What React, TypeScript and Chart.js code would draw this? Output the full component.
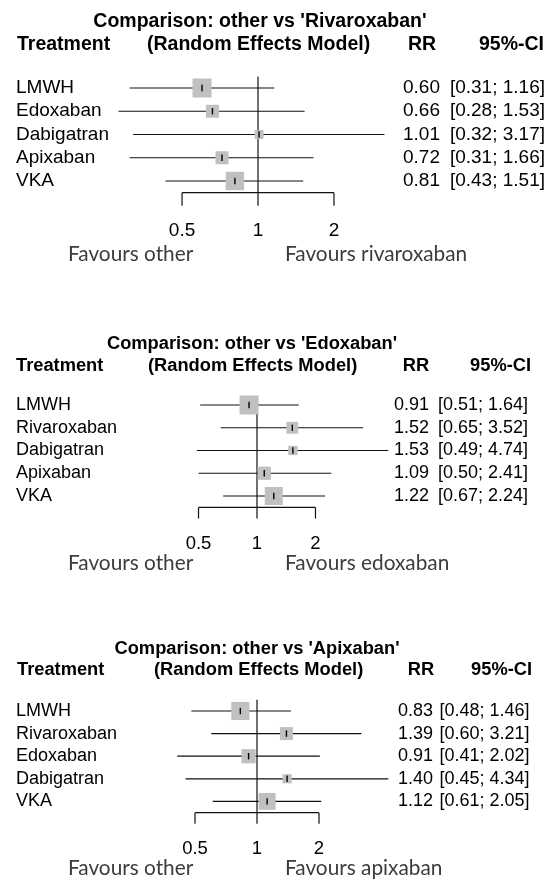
import React, { useEffect, useRef } from "react";
import { Chart, registerables } from "chart.js";

Chart.register(...registerables);

// ---------- data ----------
const headers = ["Treatment", "(Random Effects Model)", "RR", "95%-CI"];
const tickValues = [0.5, 1, 2];
const tickLabels = ["0.5", "1", "2"];

const p1Title = "Comparison: other vs 'Rivaroxaban'";
const p1Treatments = ["LMWH", "Edoxaban", "Dabigatran", "Apixaban", "VKA"];
const p1RR = [0.6, 0.66, 1.01, 0.72, 0.81];
const p1Lower = [0.31, 0.28, 0.32, 0.31, 0.43];
const p1Upper = [1.16, 1.53, 3.17, 1.66, 1.51];
const p1Weight = [32, 15, 7, 15, 30];
const p1Favours = ["Favours other", "Favours rivaroxaban"];

const p2Title = "Comparison: other vs 'Edoxaban'";
const p2Treatments = ["LMWH", "Rivaroxaban", "Dabigatran", "Apixaban", "VKA"];
const p2RR = [0.91, 1.52, 1.53, 1.09, 1.22];
const p2Lower = [0.51, 0.65, 0.49, 0.5, 0.67];
const p2Upper = [1.64, 3.52, 4.74, 2.41, 2.24];
const p2Weight = [33, 13, 8, 16, 30];
const p2Favours = ["Favours other", "Favours edoxaban"];

const p3Title = "Comparison: other vs 'Apixaban'";
const p3Treatments = ["LMWH", "Rivaroxaban", "Edoxaban", "Dabigatran", "VKA"];
const p3RR = [0.83, 1.39, 0.91, 1.4, 1.12];
const p3Lower = [0.48, 0.6, 0.41, 0.45, 0.61];
const p3Upper = [1.46, 3.21, 2.02, 4.34, 2.05];
const p3Weight = [31, 16, 19, 8, 27];
const p3Favours = ["Favours other", "Favours apixaban"];

type PanelData = {
  title: string;
  treatments: string[];
  rr: number[];
  lower: number[];
  upper: number[];
  weight: number[];
  favours: string[];
};

const PANEL_DATA: PanelData[] = [
  { title: p1Title, treatments: p1Treatments, rr: p1RR, lower: p1Lower, upper: p1Upper, weight: p1Weight, favours: p1Favours },
  { title: p2Title, treatments: p2Treatments, rr: p2RR, lower: p2Lower, upper: p2Upper, weight: p2Weight, favours: p2Favours },
  { title: p3Title, treatments: p3Treatments, rr: p3RR, lower: p3Lower, upper: p3Upper, weight: p3Weight, favours: p3Favours },
];

// ---------- layout ----------
const W = 549;
const H = 879;

const LAYOUTS = [
  { titleX: 260, titleY: 22, headerY: 45, treatX: 17, modelX: 147, rrHeadX: 422, ciHeadRight: 544, rrX: 421.5, ciRight: 545, row0: 88, step: 23.25, center: 258, half: 139.5, tickLen: 13, tickLabelY: 231, favY: 254, boxK: 3.36, bold: 19.5, text: 19, tick: 19, refTop: 0 },
  { titleX: 252, titleY: 344, headerY: 366, treatX: 16, modelX: 148, rrHeadX: 416, ciHeadRight: 531, rrX: 411.5, ciRight: 528, row0: 405, step: 22.75, center: 257, half: 131.3, tickLen: 11, tickLabelY: 544, favY: 563, boxK: 3.3, bold: 18.3, text: 18, tick: 18.5, refTop: 5 },
  { titleX: 257, titleY: 649, headerY: 670, treatX: 17, modelX: 154, rrHeadX: 421, ciHeadRight: 532, rrX: 415.5, ciRight: 529.5, row0: 711, step: 22.6, center: 257, half: 131.3, tickLen: 11, tickLabelY: 849, favY: 868, boxK: 3.25, bold: 18.3, text: 18, tick: 18.5, refTop: 0 },
];

const ARIAL = '"Liberation Sans", Arial, Helvetica, sans-serif';
const FAV_FONT = 'Lato, "Noto Sans", sans-serif';

function ForestPanel({ data, layout }: { data: PanelData; layout: (typeof LAYOUTS)[number] }) {
  const ref = useRef<HTMLCanvasElement>(null);

  useEffect(() => {
    const canvas = ref.current;
    if (!canvas) return;
    const n = data.treatments.length;
    const M = Math.max(Math.max(...data.upper), 1 / Math.min(...data.lower));
    const areaTop = layout.row0 - layout.step / 2;
    const areaBottom = layout.row0 + (n - 0.5) * layout.step;

    const ciDatasets = data.treatments.map((_, i) => ({
      type: "line" as const,
      data: [
        { x: data.lower[i], y: i },
        { x: data.upper[i], y: i },
      ],
      borderColor: "#111",
      borderWidth: 1.2,
      pointRadius: 0,
      showLine: true,
      fill: false,
      order: 3,
      clip: false as const,
    }));

    const boxSides = data.weight.map((w) => layout.boxK * Math.sqrt(w));

    const boxDataset = {
      type: "scatter" as const,
      data: data.rr.map((v, i) => ({ x: v, y: i })),
      pointStyle: "rect" as const,
      pointRadius: boxSides.map((s) => s / Math.SQRT2),
      backgroundColor: "#c0c0c0",
      borderWidth: 0,
      pointBorderWidth: 0,
      order: 2,
      clip: false as const,
    };

    const tickDataset = {
      type: "scatter" as const,
      data: data.rr.map((v, i) => ({ x: v, y: i })),
      pointStyle: "line" as const,
      rotation: 90,
      pointRadius: 3.2,
      borderColor: "#000",
      borderWidth: 1.4,
      pointBorderWidth: 1.4,
      order: 1,
      clip: false as const,
    };

    const decor = {
      id: "forestDecor",
      beforeDatasetsDraw(chart: any) {
        const { ctx } = chart;
        const x = chart.scales.x;
        const y = chart.scales.y;
        const axisY = y.getPixelForValue(n - 0.5);
        const x1 = x.getPixelForValue(1);
        ctx.save();
        ctx.strokeStyle = "#111";
        ctx.lineWidth = 1.2;
        ctx.beginPath();
        ctx.moveTo(x.getPixelForValue(tickValues[0]), axisY);
        ctx.lineTo(x.getPixelForValue(tickValues[tickValues.length - 1]), axisY);
        for (const t of tickValues) {
          const px = x.getPixelForValue(t);
          ctx.moveTo(px, axisY);
          ctx.lineTo(px, axisY + layout.tickLen);
        }
        ctx.moveTo(x1, y.getPixelForValue(-0.5) + layout.refTop);
        ctx.lineTo(x1, axisY + layout.tickLen);
        ctx.stroke();
        ctx.restore();
      },
      afterDraw(chart: any) {
        const { ctx } = chart;
        const x = chart.scales.x;
        const y = chart.scales.y;
        ctx.save();
        ctx.fillStyle = "#000";
        ctx.textBaseline = "middle";
        ctx.font = `bold ${layout.bold}px ${ARIAL}`;
        ctx.textAlign = "center";
        ctx.fillText(data.title, layout.titleX, layout.titleY);
        ctx.textAlign = "left";
        ctx.fillText(headers[0], layout.treatX, layout.headerY);
        ctx.fillText(headers[1], layout.modelX, layout.headerY);
        ctx.textAlign = "center";
        ctx.fillText(headers[2], layout.rrHeadX, layout.headerY);
        ctx.textAlign = "right";
        ctx.fillText(headers[3], layout.ciHeadRight, layout.headerY);

        ctx.font = `${layout.text}px ${ARIAL}`;
        data.treatments.forEach((t, i) => {
          const py = y.getPixelForValue(i);
          ctx.textAlign = "left";
          ctx.fillText(t, 16, py);
          ctx.textAlign = "center";
          ctx.fillText(data.rr[i].toFixed(2), layout.rrX, py);
          ctx.textAlign = "right";
          ctx.fillText(`[${data.lower[i].toFixed(2)}; ${data.upper[i].toFixed(2)}]`, layout.ciRight, py);
        });

        ctx.font = `${layout.tick}px ${ARIAL}`;
        ctx.textAlign = "center";
        tickValues.forEach((t, i) => {
          ctx.fillText(tickLabels[i], x.getPixelForValue(t), layout.tickLabelY);
        });

        ctx.font = `20.8px ${FAV_FONT}`;
        ctx.fillStyle = "#3c3c3c";
        ctx.textAlign = "left";
        ctx.fillText(data.favours[0], 68, layout.favY);
        ctx.fillText(data.favours[1], 285, layout.favY);
        ctx.restore();
      },
    };

    const chart = new Chart(canvas, {
      type: "scatter",
      data: { datasets: [...ciDatasets, boxDataset, tickDataset] as any },
      options: {
        responsive: false,
        animation: false,
        events: [],
        layout: {
          padding: {
            left: layout.center - layout.half,
            right: W - (layout.center + layout.half),
            top: areaTop,
            bottom: H - areaBottom,
          },
        },
        plugins: { legend: { display: false }, tooltip: { enabled: false }, title: { display: false } },
        scales: {
          x: { type: "logarithmic", min: 1 / M, max: M, bounds: "data", display: false },
          y: { type: "linear", min: -0.5, max: n - 0.5, reverse: true, display: false },
        },
      },
      plugins: [decor],
    });

    return () => chart.destroy();
  }, [data, layout]);

  return (
    <canvas
      ref={ref}
      width={W}
      height={H}
      style={{ position: "absolute", left: 0, top: 0, width: W, height: H }}
    />
  );
}

export default function App() {
  return (
    <div style={{ position: "absolute", left: 0, top: 0, width: W, height: H, background: "#fff", overflow: "hidden" }}>
      {PANEL_DATA.map((d, i) => (
        <ForestPanel key={i} data={d} layout={LAYOUTS[i]} />
      ))}
    </div>
  );
}
